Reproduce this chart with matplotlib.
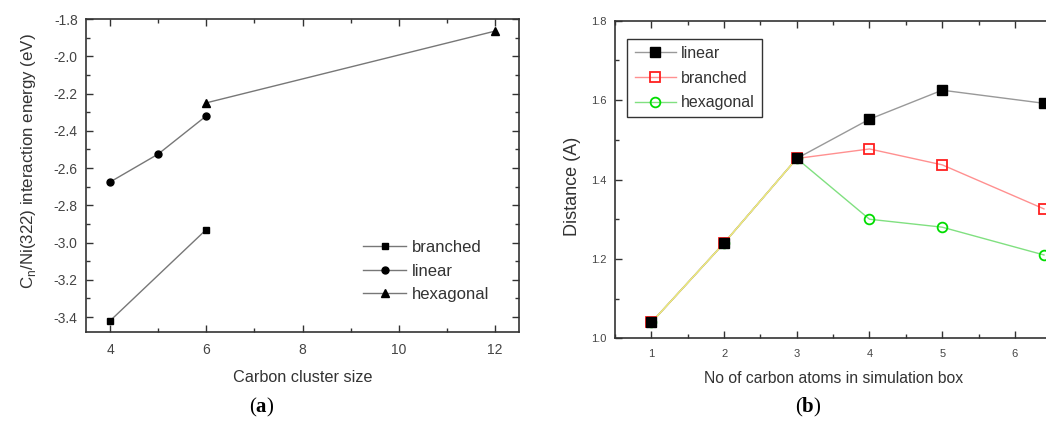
import matplotlib.pyplot as plt
from matplotlib.ticker import MultipleLocator

plt.rcParams['font.family'] = ['Liberation Sans', 'DejaVu Sans']
plt.rcParams['mathtext.fontset'] = 'custom'
plt.rcParams['mathtext.rm'] = 'Liberation Sans'
plt.rcParams['mathtext.bf'] = 'Liberation Serif:bold'

# (a) energia de interaccion
branched_x = [4, 6]
branched_e = [-3.42, -2.93]
linear_x = [4, 5, 6]
linear_e = [-2.675, -2.525, -2.32]
hexagonal_x = [6, 12]
hexagonal_e = [-2.25, -1.865]

# (b) distancia
atoms = [1, 2, 3, 4, 5, 6.4]
linear_d = [1.04, 1.24, 1.453, 1.552, 1.625, 1.592]
branched_d = [1.04, 1.24, 1.453, 1.477, 1.437, 1.326]
hexagonal_d = [1.04, 1.24, 1.453, 1.300, 1.280, 1.210]
shared_n = 3  # los tres primeros puntos son iguales

txt = '#333333'
fig = plt.figure(figsize=(10.46, 4.36), dpi=100)

# ---------------- panel (a)
ax1 = fig.add_axes([0.0822, 0.2385, 0.414, 0.7179])
ax1.plot(branched_x, branched_e, '-s', color='#777777', mfc='black', mec='black', ms=5, lw=1, label='branched')
ax1.plot(linear_x, linear_e, '-o', color='#777777', mfc='black', mec='black', ms=5, lw=1, label='linear')
ax1.plot(hexagonal_x, hexagonal_e, '-^', color='#777777', mfc='black', mec='black', ms=5.5, lw=1, label='hexagonal')
ax1.set_xlim(3.5, 12.5)
ax1.set_ylim(-3.48, -1.8)
ax1.xaxis.set_major_locator(MultipleLocator(2))
ax1.xaxis.set_minor_locator(MultipleLocator(1))
ax1.yaxis.set_major_locator(MultipleLocator(0.2))
ax1.yaxis.set_minor_locator(MultipleLocator(0.1))
ax1.yaxis.set_major_formatter(lambda v, p: f'{v:.1f}')
ax1.set_xlabel('Carbon cluster size', fontsize=11.7, color=txt, labelpad=9)
ax1.set_ylabel(r'C$_\mathrm{n}$/Ni(322) interaction energy (eV)', fontsize=12.2, color=txt, labelpad=11)
ax1.yaxis.label.set_y(0.546)
leg1 = ax1.legend(loc='lower right', frameon=False, fontsize=12, handlelength=2.6,
                  handletextpad=0.3, labelspacing=0.5, bbox_to_anchor=(0.965, 0.048))
for t in leg1.get_texts():
    t.set_color(txt)

# ---------------- panel (b)
ax2 = fig.add_axes([0.588, 0.224, 0.417, 0.7285])
ax2.plot(atoms, hexagonal_d, '-', color='#80e080', lw=1, zorder=2)
ax2.plot(atoms, branched_d, '-', color='#ff9090', lw=1, zorder=2.1)
ax2.plot(atoms, linear_d, '-', color='#999999', lw=1, zorder=2.2)
ax2.plot(atoms[:shared_n], linear_d[:shared_n], '-', color='#f2f07a', lw=1, zorder=2.5)
ax2.plot(atoms, hexagonal_d, 'o', mfc='none', mec='#00dd00', mew=1.3, ms=7, zorder=3)
ax2.plot(atoms, branched_d, 's', mfc='none', mec='#ff2020', mew=1.3, ms=6.5, zorder=3.1)
ax2.plot(atoms, linear_d, 's', mfc='black', mec='black', ms=6.5, zorder=3.2)
ax2.set_xlim(0.5, 6.5)
ax2.set_ylim(1.0, 1.8)
ax2.xaxis.set_major_locator(MultipleLocator(1))
ax2.xaxis.set_minor_locator(MultipleLocator(0.5))
ax2.yaxis.set_major_locator(MultipleLocator(0.2))
ax2.yaxis.set_minor_locator(MultipleLocator(0.1))
ax2.yaxis.set_major_formatter(lambda v, p: f'{v:.1f}')
ax2.set_xlabel('No of carbon atoms in simulation box', fontsize=11.3, color=txt, labelpad=8)
ax2.set_ylabel('Distance (A)', fontsize=13, color=txt, labelpad=7)
ax2.yaxis.label.set_y(0.48)

# leyenda con lineas y marcadores juntos
h_lin, = ax2.plot([], [], '-s', color='#999999', mfc='black', mec='black', ms=6.5, lw=1)
h_bra, = ax2.plot([], [], '-s', color='#ff9090', mfc='none', mec='#ff2020', mew=1.3, ms=6.5, lw=1)
h_hex, = ax2.plot([], [], '-o', color='#80e080', mfc='none', mec='#00dd00', mew=1.3, ms=7, lw=1)
leg2 = ax2.legend([h_lin, h_bra, h_hex], ['linear', 'branched', 'hexagonal'], loc='upper left',
                  fontsize=11.5, handlelength=2.6, handletextpad=0.3, labelspacing=0.6, fancybox=False,
                  edgecolor='#333333', framealpha=1, bbox_to_anchor=(0.01, 0.968), borderpad=0.45)
leg2.get_frame().set_linewidth(1)
for t in leg2.get_texts():
    t.set_color(txt)

for ax, fs in [(ax1, 10), (ax2, 8)]:
    for s in ax.spines.values():
        s.set_color('#333333')
        s.set_linewidth(1.2)
    ax.tick_params(which='both', direction='in', top=True, right=True, colors='#333333',
                   labelcolor='#444444', labelsize=fs)
    ax.tick_params(which='major', length=5, width=1)
    ax.tick_params(which='minor', length=3, width=1)
    ax.tick_params(axis='x', pad=8)
    ax.tick_params(axis='y', pad=6)
ax2.tick_params(which='both', right=False)

fig.text(0.2505, 0.055, r'($\mathbf{a}$)', family='Liberation Serif', fontsize=15, ha='center', color='black')
fig.text(0.7725, 0.055, r'($\mathbf{b}$)', family='Liberation Serif', fontsize=15, ha='center', color='black')

fig.savefig('out.png', dpi=100)
